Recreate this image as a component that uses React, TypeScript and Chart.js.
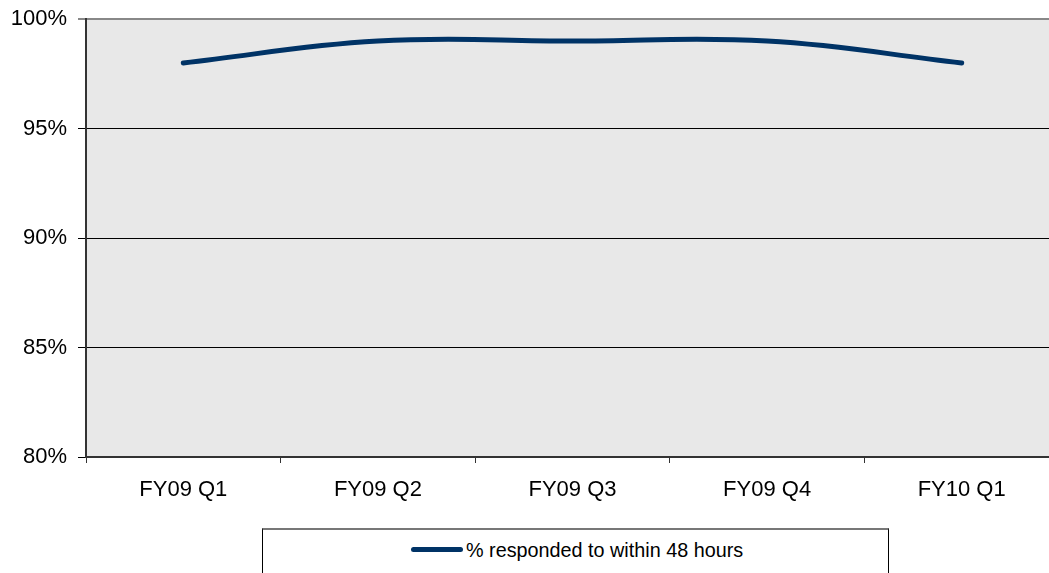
import React, { useEffect, useRef } from "react";
import { Chart, registerables } from "chart.js";

Chart.register(...registerables);

const categories: string[] = ["FY09 Q1", "FY09 Q2", "FY09 Q3", "FY09 Q4", "FY10 Q1"];
const responded48h: number[] = [98, 99, 99, 99, 98];
const seriesLabel = "% responded to within 48 hours";
const yMin = 80;
const yMax = 100;
const yStep = 5;

const FONT = "'Liberation Sans', Arial, sans-serif";
const LINE_COLOR = "#003366";

const plotBg = {
  id: "plotBg",
  beforeDraw(chart: any) {
    const { ctx, chartArea } = chart;
    ctx.save();
    ctx.fillStyle = "#e8e8e8";
    ctx.fillRect(chartArea.left, chartArea.top, chartArea.right - chartArea.left, chartArea.bottom - chartArea.top);
    ctx.restore();
  },
};

export default function App() {
  const ref = useRef<HTMLCanvasElement | null>(null);

  useEffect(() => {
    if (!ref.current) return;
    const chart = new Chart(ref.current, {
      type: "line",
      data: {
        labels: categories,
        datasets: [
          {
            label: seriesLabel,
            data: responded48h,
            borderColor: LINE_COLOR,
            backgroundColor: LINE_COLOR,
            borderWidth: 5,
            borderCapStyle: "round",
            borderJoinStyle: "round",
            pointRadius: 0,
            tension: 0.4,
            fill: false,
          },
        ],
      },
      options: {
        animation: false,
        responsive: false,
        maintainAspectRatio: false,
        layout: { autoPadding: false, padding: { top: 12, left: 0, right: 0, bottom: 0 } },
        plugins: {
          legend: { display: false },
          tooltip: { enabled: false },
        },
        scales: {
          x: {
            type: "category",
            offset: true,
            grid: {
              offset: true,
              drawOnChartArea: false,
              drawTicks: true,
              tickLength: 6,
              color: "#333",
              lineWidth: 1,
            },
            border: { display: true, color: "#333", width: 2 },
            ticks: {
              color: "#000",
              font: { family: FONT, size: 22 },
              padding: 14,
              maxRotation: 0,
            },
            afterFit(scale: any) {
              scale.height = 50;
            },
          },
          y: {
            min: yMin,
            max: yMax,
            grid: {
              color: (c: any) => (c.tick && c.tick.value === yMax ? "#888" : "#000"),
              lineWidth: (c: any) => (c.tick && c.tick.value === yMax ? 2 : 1),
              tickLength: 8,
            },
            border: { display: true, color: "#333", width: 2 },
            ticks: {
              stepSize: yStep,
              color: "#000",
              font: { family: FONT, size: 22 },
              padding: 11,
              callback: (v: any) => `${v}%`,
            },
            afterFit(scale: any) {
              scale.width = 86;
            },
          },
        },
      },
      plugins: [plotBg],
    });
    return () => chart.destroy();
  }, []);

  return (
    <div
      style={{
        position: "fixed",
        left: 0,
        top: 0,
        width: 1049,
        height: 573,
        overflow: "hidden",
        background: "#fff",
      }}
    >
      <canvas ref={ref} width={1059} height={512} style={{ position: "absolute", left: 0, top: -5, width: 1059, height: 512 }} />
      <div
        style={{
          position: "absolute",
          left: 262,
          top: 528,
          width: 627,
          height: 60,
          borderTop: "2px solid #777",
          borderLeft: "1px solid #000",
          borderRight: "1px solid #000",
          boxSizing: "border-box",
        }}
      />
      <div
        style={{
          position: "absolute",
          left: 411,
          top: 547,
          width: 52,
          height: 5,
          borderRadius: 3,
          background: LINE_COLOR,
        }}
      />
      <div
        style={{
          position: "absolute",
          left: 466,
          top: 538,
          height: 24,
          lineHeight: "24px",
          fontFamily: FONT,
          fontSize: 19.8,
          color: "#000",
          whiteSpace: "nowrap",
        }}
      >
        {seriesLabel}
      </div>
    </div>
  );
}
